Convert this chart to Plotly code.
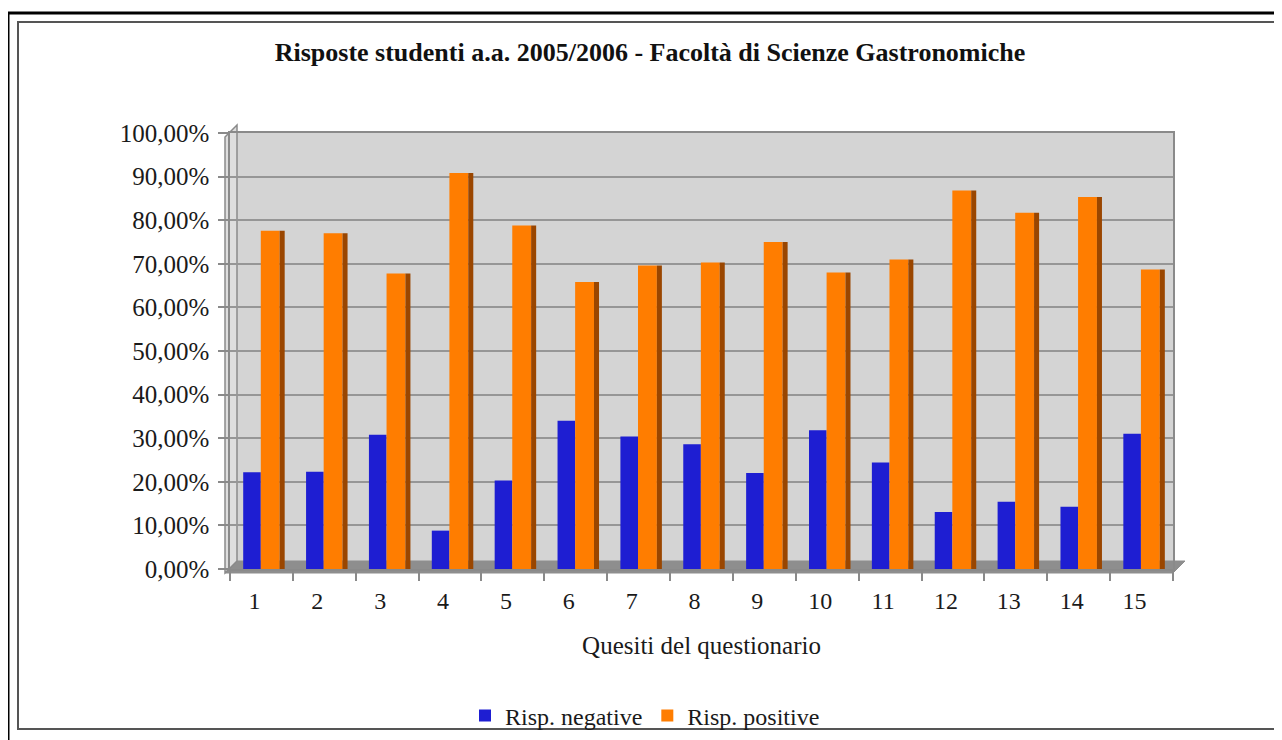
import plotly.graph_objects as go

categories = [str(i) for i in range(1, 16)]
neg_values = [22.2, 22.3, 30.8, 8.8, 20.3, 34.0, 30.4, 28.6, 22.0, 31.8, 24.4, 13.1, 15.4, 14.3, 31.0]
pos_values = [77.6, 77.0, 67.8, 90.8, 78.8, 65.8, 69.6, 70.3, 75.0, 68.0, 71.0, 86.8, 81.7, 85.3, 68.7]
y_tickvals = [0, 10, 20, 30, 40, 50, 60, 70, 80, 90, 100]
y_ticktext = ["0,00%", "10,00%", "20,00%", "30,00%", "40,00%", "50,00%",
              "60,00%", "70,00%", "80,00%", "90,00%", "100,00%"]

# The page body adds an 8px margin; work in reference-screen pixels and shift.
OFF = 8
W, H = 1282 - OFF, 740 - OFF
RL, RR = 230, 1173      # plot area (reference screen px)
RT, RB = 133, 569
L, R, T, B = RL - OFF, RR - OFF, RT - OFF, RB - OFF

def px(x):
    return (x - RL) / (RR - RL)

def py(y):
    return (RB - y) / (RB - RT)

FONT = "Liberation Serif, serif"
TXT = "#1a1a1a"

fig = go.Figure()
fig.add_trace(go.Bar(
    x=categories, y=neg_values, name="Risp. negative",
    marker=dict(color="#1e1ed2", line=dict(width=0)),
    offset=-0.29, width=0.28,
))
fig.add_trace(go.Bar(
    x=categories, y=pos_values, name="Risp. positive",
    marker=dict(color="#ff7d00", line=dict(width=0)),
    offset=-0.01, width=0.30,
))
# darker side face of the orange bars (pseudo 3D)
fig.add_trace(go.Bar(
    x=categories, y=pos_values, name="side", showlegend=False,
    marker=dict(color="#9a4600", line=dict(width=0)),
    offset=0.29, width=0.08, hoverinfo="skip",
))

shapes = []
# outer frame
shapes.append(dict(type="rect", xref="paper", yref="paper",
                   x0=px(8), x1=px(1300), y0=py(13), y1=py(760),
                   line=dict(color="black", width=3), fillcolor="rgba(0,0,0,0)", layer="below"))
shapes.append(dict(type="rect", xref="paper", yref="paper",
                   x0=px(18), x1=px(1275), y0=py(22), y1=py(729),
                   line=dict(color="#555555", width=2), fillcolor="rgba(0,0,0,0)", layer="below"))
# floor
shapes.append(dict(type="path", xref="paper", yref="paper",
                   path=f"M {px(237)} {py(561)} L {px(1185)} {py(561)} L {px(1173)} {py(573)} L {px(225)} {py(573)} Z",
                   fillcolor="#8e8e8e", line=dict(color="#8e8e8e", width=1), layer="below"))
# left side wall
shapes.append(dict(type="path", xref="paper", yref="paper",
                   path=f"M {px(225)} {py(137)} L {px(237)} {py(125)} L {px(237)} {py(561)} L {px(225)} {py(573)} Z",
                   fillcolor="#dedede", line=dict(color="#8a8a8a", width=1.5), layer="below"))

fig.update_layout(
    width=W, height=H,
    margin=dict(l=L, r=W - R, t=T, b=H - B, pad=0, autoexpand=False),
    paper_bgcolor="white",
    plot_bgcolor="#d4d4d4",
    barmode="overlay",
    font=dict(family=FONT, color=TXT),
    title=dict(text="<b>Risposte studenti a.a. 2005/2006 - Facoltà di Scienze Gastronomiche</b>",
               x=(650 - OFF) / W, xanchor="center", xref="container",
               y=1 - (52 - OFF) / H, yanchor="middle", yref="container",
               font=dict(family=FONT, size=26, color="#111111")),
    showlegend=True,
    legend=dict(orientation="h", xref="container", yref="container",
                x=(645 - OFF) / W, xanchor="center", y=1 - (716 - OFF) / H, yanchor="middle",
                font=dict(family=FONT, size=24, color=TXT),
                itemwidth=30, tracegroupgap=0, bgcolor="rgba(0,0,0,0)"),
    shapes=shapes,
)
fig.update_xaxes(
    type="category", categoryorder="array", categoryarray=categories,
    showgrid=False, zeroline=False, automargin=False,
    showline=True, linecolor="#8a8a8a", linewidth=1.5, mirror=True,
    ticks="outside", ticklen=10, tickcolor="#8a8a8a", tickwidth=1.5, tickson="boundaries",
    ticklabelshift=-7, ticklabelstandoff=9,
    tickfont=dict(family=FONT, size=24, color=TXT),
    title=dict(text="Quesiti del questionario", standoff=24,
               font=dict(family=FONT, size=25, color=TXT)),
)
fig.update_yaxes(
    range=[0, 100], tickvals=y_tickvals, ticktext=y_ticktext,
    showgrid=True, gridcolor="#969696", gridwidth=2, zeroline=False, automargin=False,
    showline=True, linecolor="#8a8a8a", linewidth=1.5, mirror=True,
    ticks="outside", ticklen=10, tickcolor="#8a8a8a", tickwidth=1.5,
    ticklabelstandoff=4,
    tickfont=dict(family=FONT, size=25, color=TXT),
)

fig.write_html("out.html")
